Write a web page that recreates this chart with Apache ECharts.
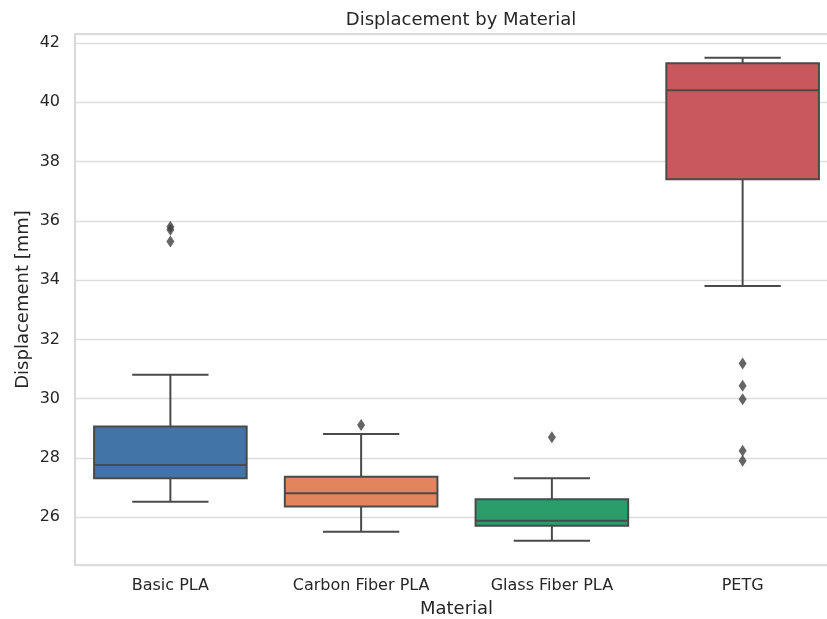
<!DOCTYPE html>
<html>
<head>
<meta charset="utf-8">
<script src="https://cdn.jsdelivr.net/npm/echarts@6/dist/echarts.min.js"></script>
<style>
html,body{margin:0;padding:0;background:#fff;}
#chart{width:827px;height:619px;}
</style>
</head>
<body>
<div id="chart"></div>
<script>
const categories = ['Basic PLA', 'Carbon Fiber PLA', 'Glass Fiber PLA', 'PETG'];
const whiskerLow = [26.52, 25.51, 25.21, 33.80];
const q1 = [27.32, 26.36, 25.71, 37.40];
const median = [27.76, 26.81, 25.88, 40.40];
const q3 = [29.06, 27.37, 26.61, 41.31];
const whiskerHigh = [30.81, 28.81, 27.32, 41.50];
const outliersBasic = [35.80, 35.70, 35.30];
const outliersCarbon = [29.11];
const outliersGlass = [28.70];
const outliersPETG = [31.19, 30.44, 29.98, 28.24, 27.91];
const boxColors = ['#4374a7', '#e1855f', '#2a9d6b', '#c9585e'];

const outlierLists = [outliersBasic, outliersCarbon, outliersGlass, outliersPETG];
const boxData = categories.map((c, i) => [i, whiskerLow[i], q1[i], median[i], q3[i], whiskerHigh[i]]);
const outlierData = [];
outlierLists.forEach((list, i) => list.forEach(v => outlierData.push([categories[i], v])));

const lineColor = '#4a4a4a';
const lw = 2;
const textColor = '#262626';
const font = 'DejaVu Sans';

const chart = echarts.init(document.getElementById('chart'));
chart.setOption({
  backgroundColor: '#ffffff',
  animation: false,
  title: {
    text: 'Displacement by Material',
    left: 456,
    textAlign: 'center',
    top: 6,
    textStyle: { fontFamily: font, fontSize: 18, fontWeight: 'normal', color: textColor }
  },
  grid: {
    left: 75, top: 34, right: -11, bottom: 54,
    outerBoundsMode: 'none',
    containLabel: false,
    show: true, borderColor: '#cccccc', borderWidth: 1.5, backgroundColor: 'transparent'
  },
  xAxis: {
    type: 'category',
    data: categories,
    name: 'Material',
    nameLocation: 'middle',
    nameGap: 35,
    nameMoveOverlap: false,
    nameTextStyle: { fontFamily: font, fontSize: 18, color: textColor, verticalAlign: 'top' },
    axisLine: { show: false },
    axisTick: { show: false },
    axisLabel: { fontFamily: font, fontSize: 16, color: textColor, margin: 13 },
    splitLine: { show: false }
  },
  yAxis: {
    type: 'value',
    min: 24.39,
    max: 42.30,
    splitNumber: 9,
    name: 'Displacement [mm]',
    nameLocation: 'middle',
    nameGap: 43,
    nameMoveOverlap: false,
    nameTextStyle: { fontFamily: font, fontSize: 18, color: textColor },
    axisLine: { show: false },
    axisTick: { show: false },
    axisLabel: {
      fontFamily: font, fontSize: 16, color: textColor, margin: 15,
      showMinLabel: false, showMaxLabel: false,
      formatter: v => (Math.abs(v - Math.round(v)) < 1e-6 && Math.round(v) % 2 === 0) ? String(Math.round(v)) : ''
    },
    splitLine: { show: true, lineStyle: { color: '#dddddd', width: 1.3 } }
  },
  series: [
    {
      type: 'custom',
      data: boxData,
      encode: { x: 0, y: [1, 2, 3, 4, 5] },
      z: 2,
      renderItem: function (params, api) {
        const ci = api.value(0);
        const band = api.size([1, 0])[0];
        const bw = band * 0.8;
        const x = api.coord([ci, 0])[0];
        const yLo = api.coord([ci, api.value(1)])[1];
        const yQ1 = api.coord([ci, api.value(2)])[1];
        const yMed = api.coord([ci, api.value(3)])[1];
        const yQ3 = api.coord([ci, api.value(4)])[1];
        const yHi = api.coord([ci, api.value(5)])[1];
        const ls = { stroke: lineColor, lineWidth: lw };
        return {
          type: 'group',
          children: [
            { type: 'line', shape: { x1: x, y1: yQ3, x2: x, y2: yHi }, style: ls },
            { type: 'line', shape: { x1: x, y1: yQ1, x2: x, y2: yLo }, style: ls },
            { type: 'line', shape: { x1: x - bw / 4, y1: yHi, x2: x + bw / 4, y2: yHi }, style: ls },
            { type: 'line', shape: { x1: x - bw / 4, y1: yLo, x2: x + bw / 4, y2: yLo }, style: ls },
            { type: 'rect', shape: { x: x - bw / 2, y: yQ3, width: bw, height: yQ1 - yQ3 },
              style: { fill: boxColors[params.dataIndex], stroke: lineColor, lineWidth: lw } },
            { type: 'line', shape: { x1: x - bw / 2, y1: yMed, x2: x + bw / 2, y2: yMed }, style: ls }
          ]
        };
      }
    },
    {
      type: 'scatter',
      data: outlierData,
      symbol: 'diamond',
      symbolSize: [8, 12],
      itemStyle: { color: '#3f3f3f' },
      z: 3
    }
  ]
});
</script>
</body>
</html>
